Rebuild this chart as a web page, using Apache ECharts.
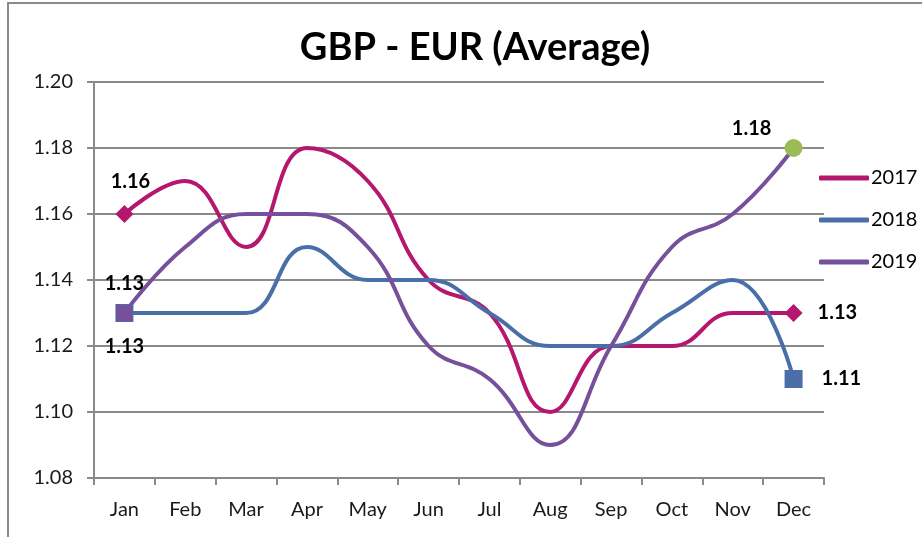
<!DOCTYPE html>
<html>
<head>
<meta charset="utf-8">
<script src="https://cdn.jsdelivr.net/npm/echarts@6/dist/echarts.min.js"></script>
<style>
  html, body { margin: 0; padding: 0; background: #fff; }
  #main { width: 922px; height: 537px; }
</style>
</head>
<body>
<div id="main"></div>
<script>
// data
var months = ['Jan', 'Feb', 'Mar', 'Apr', 'May', 'Jun', 'Jul', 'Aug', 'Sep', 'Oct', 'Nov', 'Dec'];
var years = ['2017', '2018', '2019'];
var rate2017 = [1.16, 1.17, 1.15, 1.18, 1.17, 1.14, 1.13, 1.10, 1.12, 1.12, 1.13, 1.13];
var rate2018 = [1.13, 1.13, 1.13, 1.15, 1.14, 1.14, 1.13, 1.12, 1.12, 1.13, 1.14, 1.11];
var rate2019 = [1.13, 1.15, 1.16, 1.16, 1.15, 1.12, 1.11, 1.09, 1.12, 1.15, 1.16, 1.18];
var yTicks = [1.08, 1.10, 1.12, 1.14, 1.16, 1.18, 1.20];

var FONT = 'Lato, "Open Sans", sans-serif';
var labelBase = { show: true, fontFamily: FONT, fontWeight: 'bold', fontSize: 20, color: '#000' };

// end points get a marker and a value label, the rest only the line
function buildData(values, ends) {
  return values.map(function (v, i) {
    var cfg = ends[i];
    if (!cfg) return { value: v, symbol: 'none' };
    return {
      value: v,
      symbol: cfg.symbol,
      symbolSize: cfg.size,
      itemStyle: cfg.color ? { color: cfg.color } : undefined,
      label: Object.assign({}, labelBase, { position: cfg.pos, offset: cfg.offset, formatter: v.toFixed(2) })
    };
  });
}

var chart = echarts.init(document.getElementById('main'));
chart.setOption({
  animation: false,
  textStyle: { fontFamily: FONT },
  graphic: [{
    type: 'rect',
    shape: { x: 8, y: 3, width: 960, height: 600 },
    style: { fill: 'none', stroke: '#8a8a8a', lineWidth: 2 },
    silent: true
  }],
  title: {
    text: 'GBP - EUR (Average)',
    left: 470,
    textAlign: 'center',
    top: 24,
    textStyle: { fontFamily: FONT, fontSize: 38, fontWeight: 'bold', color: '#000' }
  },
  legend: {
    orient: 'vertical',
    left: 814,
    top: 163,
    itemWidth: 50,
    itemHeight: 5,
    itemGap: 22,
    icon: 'roundRect',
    data: years,
    textStyle: { fontFamily: FONT, fontSize: 20, color: '#000', padding: [0, 0, 0, -3] }
  },
  grid: { left: 94, right: 98, top: 82, bottom: 59 },
  xAxis: {
    type: 'category',
    data: months,
    boundaryGap: true,
    axisLine: { lineStyle: { color: '#8a8a8a', width: 2 } },
    axisTick: { show: true, length: 7, lineStyle: { color: '#8a8a8a', width: 2 } },
    axisLabel: { fontFamily: FONT, fontSize: 20, color: '#1a1a1a', margin: 22 }
  },
  yAxis: {
    type: 'value',
    min: yTicks[0],
    max: yTicks[yTicks.length - 1],
    interval: 0.02,
    axisLine: { show: true, lineStyle: { color: '#8a8a8a', width: 2 } },
    axisTick: { show: true, length: 7, lineStyle: { color: '#8a8a8a', width: 2 } },
    splitLine: { lineStyle: { color: '#8a8a8a', width: 2 } },
    axisLabel: { fontFamily: FONT, fontSize: 20, color: '#1a1a1a', margin: 21,
      formatter: function (v) { return v.toFixed(2); } }
  },
  series: [{
    name: '2017',
    type: 'line',
    smooth: 0.45,
    color: '#B5176F',
    lineStyle: { width: 4, color: '#B5176F' },
    data: buildData(rate2017, {
      0: { symbol: 'diamond', size: 18, pos: 'top', offset: [6, -8] },
      11: { symbol: 'diamond', size: 18, pos: 'right', offset: [10, 0] }
    })
  }, {
    name: '2018',
    type: 'line',
    smooth: 0.45,
    color: '#4A6EA8',
    lineStyle: { width: 4, color: '#4A6EA8' },
    data: buildData(rate2018, {
      0: { symbol: 'rect', size: 18, pos: 'bottom', offset: [0, 10] },
      11: { symbol: 'rect', size: 18, pos: 'right', offset: [14, 0] }
    })
  }, {
    name: '2019',
    type: 'line',
    smooth: 0.45,
    color: '#76509A',
    lineStyle: { width: 4, color: '#76509A' },
    data: buildData(rate2019, {
      0: { symbol: 'rect', size: 16, pos: 'top', offset: [0, -6] },
      11: { symbol: 'circle', size: 18, color: '#9BBB59', pos: 'top', offset: [-42, 5] }
    })
  }]
});
</script>
</body>
</html>
